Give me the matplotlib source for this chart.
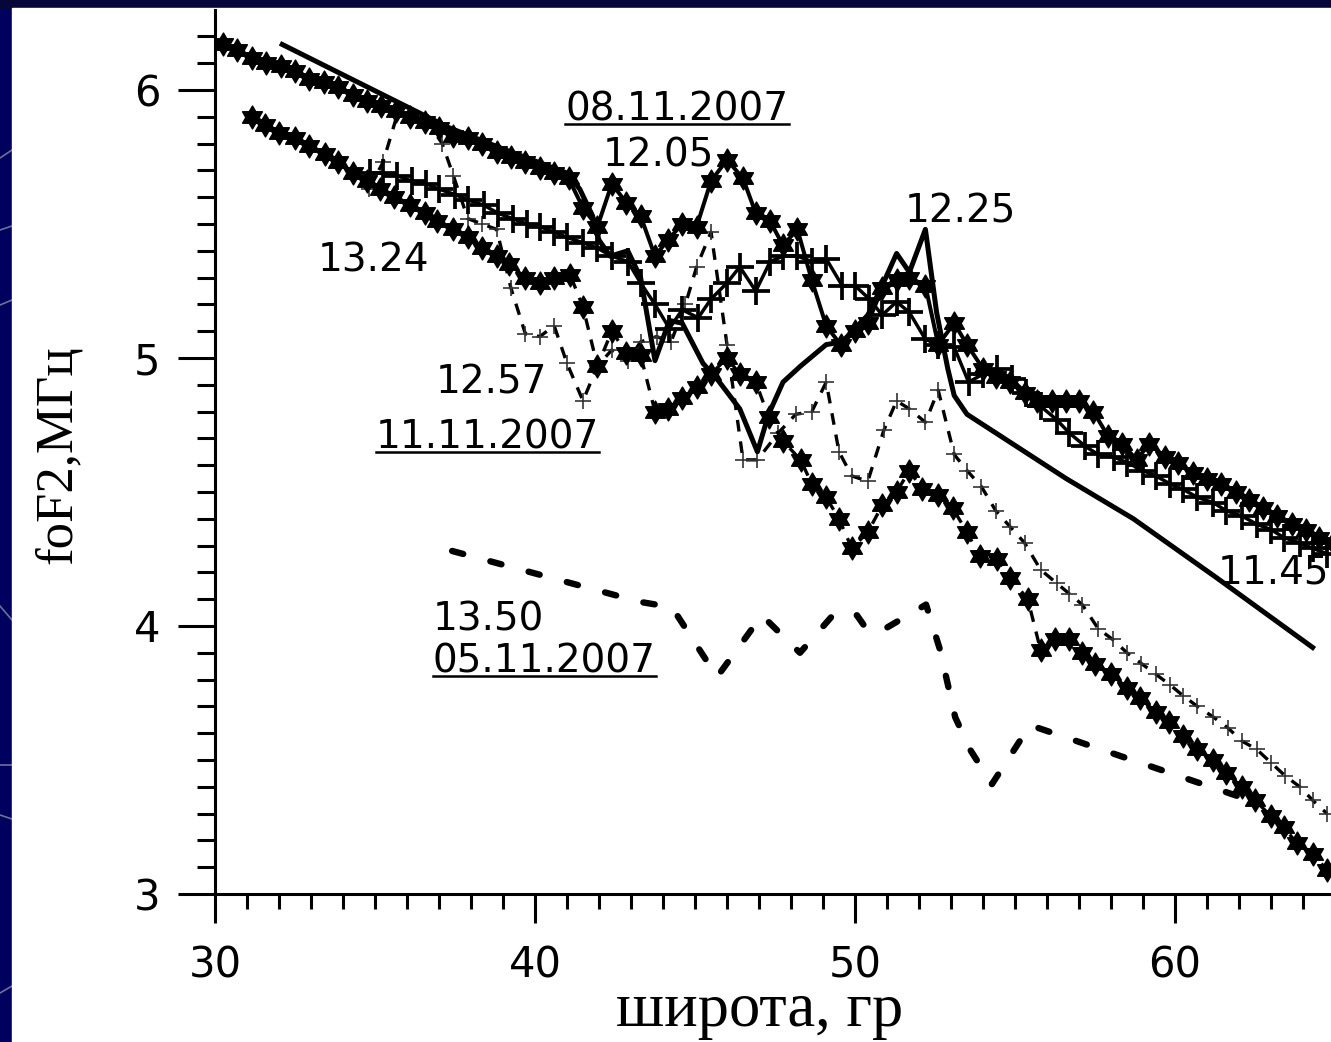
import numpy as np
import matplotlib
matplotlib.use("Agg")
import matplotlib.pyplot as plt
from matplotlib.path import Path
from matplotlib.ticker import MultipleLocator, FixedLocator
from matplotlib.patches import Rectangle
from matplotlib.lines import Line2D

plt.rcParams['font.family'] = ['DejaVu Sans']

# 08.11.2007, 12.05 -- stars on a solid line
lat_a = [30.25, 30.7, 31.15, 31.6, 32.05, 32.5, 32.95, 33.4, 33.85, 34.3,
         34.75, 35.2, 35.65, 36.1, 36.55, 37.0, 37.45, 37.9, 38.35, 38.8,
         39.25, 39.7, 40.15, 40.6, 41.05, 41.5, 41.95, 42.4, 42.85, 43.3,
         43.75, 44.15, 44.6, 45.05, 45.5, 46.0, 46.5, 46.9, 47.35, 47.75,
         48.2, 48.65, 49.1, 49.55, 50.0, 50.4, 50.85, 51.3, 51.7, 52.2,
         52.6, 53.1, 53.5, 54.0, 54.4, 54.85, 55.3, 55.7, 56.15, 56.6,
         57.0, 57.45, 57.9, 58.35, 58.8, 59.2, 59.7, 60.1, 60.55, 61.0,
         61.45, 61.9, 62.3, 62.75, 63.2, 63.65, 64.1, 64.5, 64.95]
fof_a = [6.17, 6.15, 6.12, 6.10, 6.09, 6.07, 6.04, 6.03, 6.01, 5.98,
         5.96, 5.94, 5.92, 5.90, 5.88, 5.86, 5.83, 5.82, 5.80, 5.77,
         5.75, 5.73, 5.71, 5.69, 5.67, 5.56, 5.49, 5.65, 5.58, 5.53,
         5.38, 5.44, 5.50, 5.49, 5.66, 5.74, 5.67, 5.54, 5.51, 5.42,
         5.48, 5.29, 5.12, 5.05, 5.10, 5.13, 5.26, 5.29, 5.30, 5.27,
         5.05, 5.13, 5.05, 4.96, 4.93, 4.91, 4.87, 4.84, 4.84, 4.84,
         4.84, 4.80, 4.71, 4.68, 4.62, 4.68, 4.63, 4.61, 4.57, 4.55,
         4.53, 4.50, 4.47, 4.44, 4.41, 4.38, 4.36, 4.33, 4.31]

# 08.11.2007, 12.25 -- plain solid line
lat_b = [32.1, 37.3, 39.0, 41.0, 41.4, 41.8, 42.0, 42.35, 42.9, 43.3,
         43.75, 44.2, 44.6, 45.25, 45.7, 46.4, 46.95, 47.3, 47.75, 48.3,
         49.1, 49.6, 50.4, 50.85, 51.3, 51.7, 52.2, 52.55, 52.9, 53.1,
         53.5, 55.05, 56.6, 58.7, 61.3, 64.3]
fof_b = [6.17, 5.86, 5.78, 5.69, 5.63, 5.53, 5.44, 5.38, 5.40, 5.30,
         4.99, 5.14, 5.13, 4.98, 4.92, 4.81, 4.65, 4.79, 4.91, 4.97,
         5.05, 5.06, 5.16, 5.27, 5.39, 5.32, 5.48, 5.17, 4.96, 4.86,
         4.79, 4.67, 4.55, 4.40, 4.18, 3.92]

# 11.45 -- large crosses on a solid line
lat_c = [34.85, 35.25, 35.7, 36.15, 36.6, 37.0, 37.5, 37.9, 38.4, 38.85,
         39.3, 39.75, 40.15, 40.6, 41.0, 41.5, 41.95, 42.4, 42.9, 43.3,
         43.75, 44.2, 44.6, 45.1, 45.5, 46.0, 46.4, 46.9, 47.35, 47.75,
         48.2, 48.65, 49.1, 49.6, 50.0, 50.45, 50.85, 51.3, 51.7, 52.2,
         52.6, 53.1, 53.55, 54.0, 54.45, 54.9, 55.35, 55.8, 56.3, 56.7,
         57.2, 57.6, 58.1, 58.5, 59.0, 59.4, 59.85, 60.25, 60.7, 61.2,
         61.6, 62.1, 62.55, 63.0, 63.4, 63.9, 64.3, 64.75]
fof_c = [5.69, 5.69, 5.68, 5.66, 5.65, 5.63, 5.61, 5.59, 5.57, 5.54,
         5.52, 5.50, 5.49, 5.47, 5.45, 5.43, 5.41, 5.38, 5.36, 5.28,
         5.20, 5.11, 5.18, 5.15, 5.22, 5.28, 5.34, 5.25, 5.36, 5.38,
         5.38, 5.36, 5.37, 5.27, 5.27, 5.22, 5.16, 5.21, 5.17, 5.07,
         5.05, 5.04, 4.91, 4.94, 4.96, 4.92, 4.87, 4.82, 4.77, 4.72,
         4.67, 4.64, 4.63, 4.61, 4.58, 4.56, 4.53, 4.51, 4.48, 4.46,
         4.43, 4.41, 4.38, 4.36, 4.33, 4.31, 4.29, 4.27]

# 11.11.2007, 12.57 -- small crosses on a dashed line
lat_d = [34.8, 35.25, 35.7, 36.2, 36.65, 37.1, 37.45, 37.9, 38.35, 38.8,
         39.25, 39.7, 40.15, 40.6, 41.0, 41.5, 41.95, 42.4, 42.9, 43.3,
         43.8, 44.25, 44.7, 45.05, 45.5, 46.0, 46.5, 46.95, 47.6, 48.15,
         48.65, 49.1, 49.5, 49.9, 50.4, 50.9, 51.3, 51.7, 52.2, 52.6,
         53.1, 53.5, 53.95, 54.4, 54.85, 55.3, 55.8, 56.3, 56.7, 57.1,
         57.6, 58.05, 58.5, 58.95, 59.4, 59.85, 60.25, 60.7, 61.2, 61.65,
         62.1, 62.55, 63.0, 63.45, 63.9, 64.3, 64.75]
fof_d = [5.63, 5.73, 5.91, 5.90, 5.88, 5.80, 5.68, 5.52, 5.50, 5.48,
         5.26, 5.09, 5.08, 5.12, 4.98, 4.84, 4.97, 5.03, 4.99, 5.06,
         5.08, 5.06, 5.20, 5.34, 5.47, 5.05, 4.62, 4.62, 4.72, 4.79,
         4.80, 4.91, 4.65, 4.56, 4.54, 4.73, 4.84, 4.81, 4.76, 4.88,
         4.64, 4.58, 4.52, 4.43, 4.37, 4.31, 4.21, 4.16, 4.12, 4.08,
         3.99, 3.95, 3.90, 3.86, 3.82, 3.78, 3.74, 3.70, 3.66, 3.62,
         3.57, 3.54, 3.49, 3.44, 3.40, 3.35, 3.30]

# 13.24 -- stars on a dashed line
lat_e = [31.15, 31.55, 32.0, 32.5, 32.95, 33.45, 33.85, 34.3, 34.75, 35.15,
         35.6, 36.1, 36.55, 36.95, 37.45, 37.9, 38.35, 38.8, 39.2, 39.7,
         40.15, 40.6, 41.1, 41.5, 41.95, 42.4, 42.85, 43.3, 43.75, 44.15,
         44.6, 45.05, 45.5, 46.0, 46.4, 46.9, 47.3, 47.75, 48.3, 48.65,
         49.1, 49.5, 49.9, 50.4, 50.85, 51.3, 51.7, 52.1, 52.6, 53.05,
         53.5, 53.9, 54.45, 54.85, 55.4, 55.8, 56.25, 56.7, 57.1, 57.5,
         58.0, 58.5, 58.9, 59.4, 59.8, 60.25, 60.7, 61.2, 61.6, 62.1,
         62.5, 63.0, 63.4, 63.8, 64.3, 64.75]
fof_e = [5.90, 5.87, 5.84, 5.82, 5.79, 5.76, 5.73, 5.69, 5.66, 5.63,
         5.60, 5.57, 5.54, 5.51, 5.48, 5.45, 5.41, 5.38, 5.35, 5.30,
         5.28, 5.30, 5.31, 5.19, 4.97, 5.10, 5.02, 5.01, 4.80, 4.81,
         4.85, 4.89, 4.94, 5.00, 4.94, 4.91, 4.78, 4.69, 4.62, 4.53,
         4.48, 4.40, 4.29, 4.35, 4.45, 4.50, 4.58, 4.51, 4.49, 4.44,
         4.35, 4.26, 4.25, 4.18, 4.10, 3.91, 3.95, 3.95, 3.90, 3.86,
         3.82, 3.77, 3.73, 3.68, 3.64, 3.59, 3.54, 3.50, 3.45, 3.40,
         3.35, 3.29, 3.25, 3.19, 3.15, 3.09]

# 05.11.2007, 13.50 -- thick dashed line
lat_f = [37.41, 43.28, 44.28, 45.69, 47.09, 48.28, 49.38, 50.06, 50.41,
         50.94, 52.22, 52.66, 53.13, 53.59, 54.28, 55.47, 62.09]
fof_f = [4.28, 4.09, 4.07, 3.81, 4.04, 3.90, 4.05, 4.04, 3.98,
         3.99, 4.08, 3.91, 3.66, 3.54, 3.41, 3.63, 3.36]

# labels: (text, lat, foF2 at baseline, underlined)
notes = [("08.11.2007", 40.95, 5.888, True),
         ("12.05", 42.12, 5.713, False),
         ("12.25", 51.56, 5.507, False),
         ("13.24", 33.2, 5.321, False),
         ("12.57", 36.9, 4.869, False),
         ("11.11.2007", 35.02, 4.664, True),
         ("13.50", 36.8, 3.985, False),
         ("05.11.2007", 36.8, 3.828, True),
         ("11.45", 61.33, 4.160, False)]

# six-pointed star marker
ang = np.deg2rad(90 + np.arange(12) * 30)
rad = np.where(np.arange(12) % 2 == 0, 1.0, 0.58)
pts = np.column_stack([rad * np.cos(ang), rad * np.sin(ang)])
star6 = Path(np.vstack([pts, pts[:1]]), closed=True)

W, H = 1331, 1042
fig = plt.figure(figsize=(W / 100, H / 100), dpi=100, facecolor='#00005e')
fig.patches.append(Rectangle((0, 1 - 8 / H), 1, 8 / H, transform=fig.transFigure,
                             color='#06063a', zorder=-2))
fig.patches.append(Rectangle((12 / W, 0), 1, 1 - 8 / H, transform=fig.transFigure,
                             color='white', zorder=-1))
for y0, y1 in [(158, 150), (230, 226), (305, 300), (606, 620), (765, 765),
               (815, 819), (993, 986)]:
    fig.add_artist(Line2D([0, 12 / W], [1 - y0 / H, 1 - y1 / H], color='#6f6f9a',
                          lw=1.2, transform=fig.transFigure, zorder=-1))

ax = fig.add_axes([215 / W, 148 / H, 1120 / W, 884 / H])
ax.set_facecolor('none')
ax.set_xlim(30, 65)
ax.set_ylim(3, 3 + 884 / 268)

ax.plot(lat_f, fof_f, color='k', lw=4.6, linestyle=(0, (1.8, 4.4)),
        dash_capstyle='round', solid_joinstyle='round')
ax.plot(lat_d, fof_d, color='k', lw=2.4, linestyle=(0, (3.5, 3)),
        marker='+', ms=12, mew=1.2, mec='#333333')
ax.plot(lat_b, fof_b, color='k', lw=3.6, solid_joinstyle='round')
ax.plot(lat_c, fof_c, color='k', lw=2.5, marker='+', ms=20, mew=2.7)
ax.plot(lat_e, fof_e, color='k', lw=2.4, linestyle=(0, (3.5, 3)),
        marker=star6, ms=16.5, mfc='k', mec='k', mew=1)
ax.plot(lat_a, fof_a, color='k', lw=2.9, marker=star6, ms=16.5, mfc='k', mec='k',
        mew=1)

labels = []
for txt, x, y, under in notes:
    t = ax.text(x, y, txt, fontsize=28, ha='left', va='baseline', color='k')
    labels.append((t, under))

for s in ['top', 'right']:
    ax.spines[s].set_visible(False)
for s in ['left', 'bottom']:
    ax.spines[s].set_linewidth(2.2)

ax.xaxis.set_major_locator(FixedLocator([30, 40, 50, 60]))
ax.xaxis.set_minor_locator(MultipleLocator(1))
ax.yaxis.set_major_locator(FixedLocator([3, 4, 5, 6]))
ax.yaxis.set_minor_locator(MultipleLocator(0.1))
ax.tick_params(axis='y', which='major', length=26.5, width=2.2, pad=13, labelsize=30)
ax.tick_params(axis='y', which='minor', length=13, width=2.2)
ax.tick_params(axis='x', which='major', length=21, width=2.2, pad=15, labelsize=30)
ax.tick_params(axis='x', which='minor', length=11, width=2.2)

ax.set_xlabel('широта, гр', fontsize=45, family='Liberation Serif', va='baseline')
ax.xaxis.set_label_coords((760 - 215) / 1120, (894 - 1026) / 884)
ax.set_ylabel('foF2,МГц', fontsize=38, family='Liberation Serif', va='center')
ax.yaxis.set_label_coords((58 - 215) / 1120, (894 - 455) / 884)

# underline the dates
fig.canvas.draw()
for t, under in labels:
    if not under:
        continue
    bb = t.get_window_extent()
    base = ax.transData.transform((0, t.get_position()[1]))[1]
    yline = (base - 4) / H
    fig.add_artist(Line2D([bb.x0 / W, bb.x1 / W], [yline, yline], color='k',
                          lw=1.8, transform=fig.transFigure))

fig.savefig('out.png', dpi=100, facecolor=fig.get_facecolor())
